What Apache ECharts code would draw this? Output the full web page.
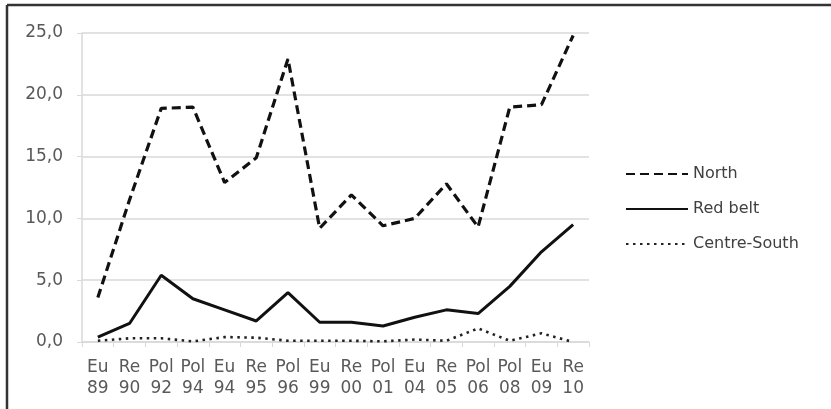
<!DOCTYPE html>
<html>
<head>
<meta charset="utf-8">
<script src="https://cdn.jsdelivr.net/npm/echarts@6/dist/echarts.min.js"></script>
<style>
  html, body { margin: 0; padding: 0; background: #fff; }
  #chart { width: 831px; height: 409px; }
</style>
</head>
<body>
<div id="chart"></div>
<script>
// election categories (type + year)
const categories = ['Eu 89', 'Re 90', 'Pol 92', 'Pol 94', 'Eu 94', 'Re 95', 'Pol 96', 'Eu 99',
  'Re 00', 'Pol 01', 'Eu 04', 'Re 05', 'Pol 06', 'Pol 08', 'Eu 09', 'Re 10'];

const north = [3.6, 11.5, 18.9, 19.0, 12.9, 14.9, 22.9, 9.2, 11.9, 9.4, 10.0, 12.8, 9.3, 19.0, 19.2, 24.8];
const redBelt = [0.4, 1.5, 5.4, 3.5, 2.6, 1.7, 4.0, 1.6, 1.6, 1.3, 2.0, 2.6, 2.3, 4.5, 7.3, 9.5];
const centreSouth = [0.1, 0.3, 0.3, 0.05, 0.4, 0.35, 0.1, 0.1, 0.1, 0.05, 0.2, 0.1, 1.1, 0.1, 0.7, 0.0];

const yTicks = { min: 0, max: 25, interval: 5 };

const font = 'DejaVu Sans';
const grey = '#d9d9d9';

const chart = echarts.init(document.getElementById('chart'));

chart.setOption({
  backgroundColor: '#fff',
  animation: false,
  textStyle: { fontFamily: font },
  grid: { left: 82, right: 242, top: 33, bottom: 67 },
  legend: {
    orient: 'vertical',
    left: 625,
    top: 166,
    padding: 0,
    itemWidth: 62,
    itemHeight: 14,
    itemGap: 19,
    itemStyle: { opacity: 0 },
    textStyle: { fontFamily: font, fontSize: 16, color: '#404040' },
    data: ['North', 'Red belt', 'Centre-South'],
  },
  xAxis: {
    type: 'category',
    data: categories,
    boundaryGap: true,
    axisLine: { lineStyle: { color: grey, width: 1.5 } },
    axisTick: { show: true, length: 5, interval: 0, lineStyle: { color: grey } },
    axisLabel: {
      interval: 0,
      margin: 15,
      fontSize: 17,
      lineHeight: 21,
      color: '#595959',
      formatter: (v) => v.replace(' ', '\n'),
    },
  },
  yAxis: {
    type: 'value',
    ...yTicks,
    axisLine: { show: true, lineStyle: { color: grey, width: 1.5 } },
    axisTick: { show: true, length: 5, lineStyle: { color: grey } },
    axisLabel: {
      margin: 19,
      fontSize: 17,
      color: '#595959',
      formatter: (v) => v.toFixed(1).replace('.', ','),
    },
    splitLine: { lineStyle: { color: grey, width: 1.5 } },
  },
  series: [
    {
      name: 'North',
      type: 'line',
      data: north,
      symbol: 'none',
      lineStyle: { color: '#111', width: 3.2, type: [9, 5] },
      itemStyle: { color: '#111' },
    },
    {
      name: 'Red belt',
      type: 'line',
      data: redBelt,
      symbol: 'none',
      lineStyle: { color: '#111', width: 3 },
      itemStyle: { color: '#111' },
    },
    {
      name: 'Centre-South',
      type: 'line',
      data: centreSouth,
      symbol: 'none',
      lineStyle: { color: '#222', width: 2.6, type: [2.5, 4.5] },
      itemStyle: { color: '#222' },
    },
  ],
  graphic: [
    { type: 'line', shape: { x1: 7, y1: 5, x2: 831, y2: 5 }, style: { stroke: '#333', lineWidth: 2.5 } },
    { type: 'line', shape: { x1: 7, y1: 5, x2: 7, y2: 409 }, style: { stroke: '#333', lineWidth: 2.5 } },
  ],
});
</script>
</body>
</html>
